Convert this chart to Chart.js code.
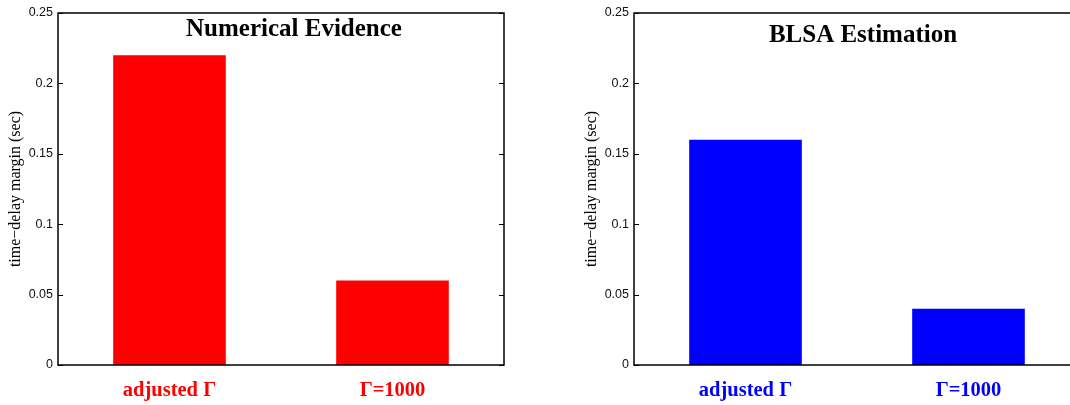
<!DOCTYPE html>
<html>
<head>
<meta charset="utf-8">
<script src="https://cdn.jsdelivr.net/npm/chart.js@4.4.1/dist/chart.umd.min.js"></script>
<style>
html,body{margin:0;padding:0;background:#fff;overflow:hidden;width:1070px;height:405px;}
canvas{position:absolute;top:0;}
#c1{left:0;}
#c2{left:576px;}
</style>
</head>
<body>
<canvas id="c1" width="535" height="405"></canvas>
<canvas id="c2" width="535" height="405"></canvas>
<script>
const categories = ['adjusted \u0393', '\u0393=1000'];
const numericalValues = [0.22, 0.06];
const blsaValues = [0.16, 0.04];
const yTicks = [0, 0.05, 0.1, 0.15, 0.2, 0.25];
const yTickLabels = ['0', '0.05', '0.1', '0.15', '0.2', '0.25'];
const titles = ['Numerical Evidence', 'BLSA Estimation'];
const yLabel = 'time\u2212delay margin (sec)';

const framePlugin = {
  id: 'frame',
  afterDraw(chart, args, opts) {
    const ctx = chart.ctx;
    const a = chart.chartArea;
    const y = chart.scales.y;
    ctx.save();
    ctx.strokeStyle = '#000';
    ctx.lineWidth = 1.5;
    ctx.strokeRect(a.left, a.top, a.right - a.left, a.bottom - a.top);
    ctx.lineWidth = 1;
    ctx.beginPath();
    yTicks.forEach(v => {
      const py = Math.round(y.getPixelForValue(v)) + 0.5;
      ctx.moveTo(a.left, py); ctx.lineTo(a.left + 5, py);
      ctx.moveTo(a.right, py); ctx.lineTo(a.right - 5, py);
    });
    ctx.stroke();
    ctx.fillStyle = '#000';
    ctx.font = 'bold 25px "Liberation Serif", "Times New Roman", serif';
    ctx.textAlign = 'center';
    ctx.textBaseline = 'alphabetic';
    ctx.fillText(opts.text, (a.left + a.right) / 2 + opts.dx, opts.baseline);
    ctx.restore();
  }
};

function makeChart(id, values, color, title, dx, baseline) {
  return new Chart(document.getElementById(id), {
    type: 'bar',
    data: {
      labels: categories,
      datasets: [{
        data: values,
        backgroundColor: color,
        borderWidth: 0,
        barPercentage: 0.505,
        categoryPercentage: 1.0
      }]
    },
    options: {
      responsive: false,
      animation: false,
      events: [],
      layout: { padding: { left: 0, right: 31, top: 13, bottom: 0 } },
      plugins: {
        legend: { display: false },
        tooltip: { enabled: false },
        frame: { text: title, dx: dx, baseline: baseline }
      },
      scales: {
        x: {
          grid: { display: false, drawTicks: false },
          border: { display: false },
          ticks: {
            color: color,
            padding: 13,
            font: { family: '"Liberation Serif", "Times New Roman", serif', size: 20.5, weight: 'bold' }
          },
          afterFit(s) { s.height = 40; }
        },
        y: {
          min: 0, max: 0.25,
          afterBuildTicks(s) { s.ticks = yTicks.map(v => ({ value: v })); },
          grid: { display: false, drawTicks: false },
          border: { display: false },
          ticks: {
            color: '#111',
            padding: 5,
            font: { family: '"Liberation Sans", Arial, sans-serif', size: 12.5 },
            callback(v) { return yTickLabels[yTicks.indexOf(v)]; }
          },
          title: {
            display: true,
            text: yLabel,
            color: '#000',
            padding: { top: 6, bottom: 0 },
            font: { family: '"Liberation Serif", "Times New Roman", serif', size: 16 }
          },
          afterFit(s) { s.width = 58; }
        }
      }
    },
    plugins: [framePlugin]
  });
}

makeChart('c1', numericalValues, '#ff0000', titles[0], 13, 36);
makeChart('c2', blsaValues, '#0000ff', titles[1], 6, 42);
</script>
</body>
</html>
